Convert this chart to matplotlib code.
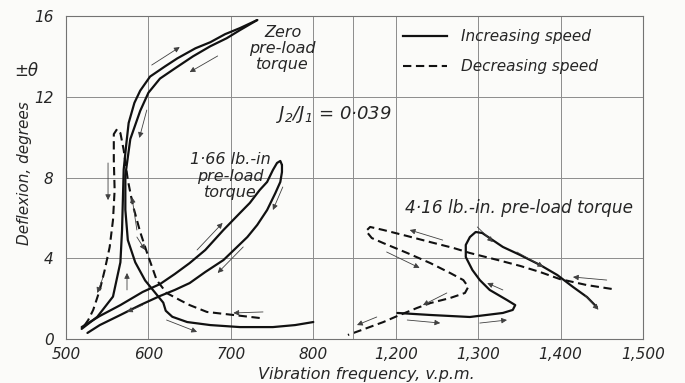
import matplotlib.pyplot as plt
import numpy as np
from matplotlib.lines import Line2D

plt.rcParams['font.family'] = ['DejaVu Sans']
plt.rcParams['font.style'] = 'italic'

# zero pre-load torque
zero_inc_f = [519, 538, 557, 566, 568, 569, 570, 573, 576, 583, 590, 602, 620, 635, 657, 675, 693, 711, 732]
zero_inc_d = [0.5, 1.1, 2.1, 3.8, 5.4, 6.9, 8.4, 9.6, 10.7, 11.7, 12.3, 13.0, 13.5, 13.9, 14.4, 14.7, 15.1, 15.4, 15.8]
zero_ret_f = [732, 711, 695, 675, 654, 632, 614, 600, 590, 578, 572, 572, 575, 584, 596, 608, 618, 621, 629, 647, 675, 711, 751, 778, 800]
zero_ret_d = [15.8, 15.3, 14.9, 14.5, 14.0, 13.4, 12.9, 12.2, 11.3, 9.9, 8.1, 6.4, 4.9, 3.8, 2.9, 2.3, 1.8, 1.4, 1.1, 0.84, 0.69, 0.59, 0.59, 0.69, 0.84]
zero_dec_f = [735, 703, 671, 650, 638, 622, 610, 598, 590, 581, 575, 570, 566, 562, 558, 558, 559, 557, 553, 547, 541, 533, 527, 521]
zero_dec_d = [1.04, 1.19, 1.34, 1.68, 1.93, 2.28, 2.92, 4.31, 5.30, 6.64, 7.88, 9.36, 10.2, 10.4, 10.15, 8.87, 7.38, 5.89, 4.56, 3.42, 2.43, 1.44, 0.94, 0.59]

# 1.66 lb.-in pre-load torque
p166_inc_f = [519, 541, 566, 593, 614, 632, 650, 669, 691, 711, 723, 735, 744, 751, 756, 760, 762]
p166_inc_d = [0.59, 1.14, 1.68, 2.33, 2.72, 3.22, 3.76, 4.41, 5.40, 6.24, 6.74, 7.38, 7.78, 8.37, 8.72, 8.82, 8.62]
p166_ret_f = [762, 762, 760, 754, 744, 732, 720, 705, 691, 669, 650, 632, 614, 590, 566, 541, 526]
p166_ret_d = [8.62, 8.27, 7.78, 7.23, 6.39, 5.65, 5.05, 4.46, 3.91, 3.32, 2.77, 2.43, 2.13, 1.68, 1.19, 0.69, 0.30]

# 4.16 lb.-in pre-load torque
p416_inc_f = [1202, 1242, 1290, 1330, 1342, 1345, 1335, 1314, 1302, 1293, 1285, 1285, 1290, 1297, 1305, 1314, 1330, 1351, 1375, 1396, 1415, 1432, 1444]
p416_inc_d = [1.29, 1.19, 1.09, 1.29, 1.44, 1.68, 1.93, 2.43, 2.92, 3.42, 4.06, 4.66, 5.05, 5.30, 5.25, 5.00, 4.56, 4.16, 3.67, 3.17, 2.58, 2.08, 1.58]
p416_dec_f = [1462, 1432, 1399, 1375, 1351, 1324, 1290, 1270, 1242, 1214, 1185, 1169, 1164, 1171, 1185, 1214, 1242, 1266, 1282, 1288, 1284, 1266, 1242, 1226, 1202, 1185, 1165, 1142]
p416_dec_d = [2.48, 2.67, 2.97, 3.32, 3.62, 3.91, 4.26, 4.51, 4.80, 5.10, 5.40, 5.55, 5.35, 5.00, 4.75, 4.26, 3.76, 3.27, 2.92, 2.58, 2.28, 2.03, 1.78, 1.54, 1.14, 0.84, 0.54, 0.20]

# direction arrows (tail f, tail d, head f, head d)
arrows = [
    (604, 13.57, 638, 14.46), (684, 14.02, 650, 13.22), (598, 11.34, 589, 9.96),
    (551, 8.72, 551, 6.88), (586, 5.40, 580, 7.03), (545, 3.07, 538, 2.28),
    (574, 2.43, 574, 3.27), (586, 5.05, 596, 4.41), (593, 1.68, 574, 1.34),
    (622, 0.94, 659, 0.35), (739, 1.34, 703, 1.29),
    (659, 4.41, 690, 5.75), (715, 4.56, 684, 3.27), (763, 7.53, 751, 6.39),
    (1257, 4.90, 1217, 5.40), (1189, 4.31, 1229, 3.52), (1262, 2.28, 1233, 1.68),
    (1177, 1.09, 1153, 0.69), (1214, 0.94, 1254, 0.79), (1299, 5.55, 1318, 4.80),
    (1347, 4.31, 1379, 3.57), (1456, 2.92, 1415, 3.07), (1330, 2.43, 1311, 2.77),
    (1302, 0.79, 1335, 0.94), (1430, 2.15, 1446, 1.45),
]

tick_pos = [500, 600, 700, 800, 900, 1000, 1100, 1200]
tick_lab = ['500', '600', '700', '800', '1,200', '1,300', '1,400', '1,500']


def xpos(f):
    # the axis is broken between 800 and 1,150 v.p.m.
    f = np.asarray(f, dtype=float)
    return np.where(f > 1000, f - 300, f)


fig = plt.figure(figsize=(6.85, 3.83), dpi=100, facecolor='#fbfbf9')
ax = fig.add_axes([66 / 685, 44 / 383, 577 / 685, 323 / 383])
ax.set_facecolor('#fbfbf9')

ink = '#111111'
solid = dict(color=ink, lw=1.6, solid_capstyle='round')
dashed = dict(color=ink, lw=1.5, ls=(0, (4, 2.2)))

ax.plot(xpos(zero_inc_f), zero_inc_d, **solid)
ax.plot(xpos(zero_ret_f), zero_ret_d, **solid)
ax.plot(xpos(zero_dec_f), zero_dec_d, **dashed)
ax.plot(xpos(p166_inc_f), p166_inc_d, **solid)
ax.plot(xpos(p166_ret_f), p166_ret_d, **solid)
ax.plot(xpos(p416_inc_f), p416_inc_d, **solid)
ax.plot(xpos(p416_dec_f), p416_dec_d, **dashed)

for f0, d0, f1, d1 in arrows:
    ax.annotate('', xy=(xpos(f1), d1), xytext=(xpos(f0), d0),
                arrowprops=dict(arrowstyle='-|>', lw=0.6, color='0.25',
                                mutation_scale=8, shrinkA=0, shrinkB=0))

ax.set_xlim(500, 1200)
ax.set_ylim(0, 16)
ax.set_xticks(tick_pos)
ax.set_xticklabels(tick_lab)
ax.set_yticks([0, 4, 8, 12, 16])
ax.grid(True, color='0.55', lw=0.7)
ax.axvline(848, color='0.55', lw=0.7)
for s in ax.spines.values():
    s.set_color('0.45')
    s.set_linewidth(0.8)
ax.tick_params(axis='both', length=0, labelsize=11, colors='0.15')
ax.tick_params(axis='y', pad=9)
ax.tick_params(axis='x', pad=6)

ax.text(xpos(763), 14.4, 'Zero\npre-load\ntorque', fontsize=11.5, ha='center', va='center',
        linespacing=1.1, color='0.15')
ax.text(xpos(825), 11.1, r'$J_2/J_1$ = 0·039', fontsize=13, ha='center', va='center', color='0.15')
ax.text(xpos(699), 8.07, '1·66 lb.-in\npre-load\ntorque', fontsize=11.5, ha='center', va='center',
        linespacing=1.1, color='0.15')
ax.text(xpos(1211), 6.49, '4·16 lb.-in. pre-load torque', fontsize=12.2, ha='left', va='center',
        color='0.15')

handles = [Line2D([], [], color=ink, lw=1.6), Line2D([], [], color=ink, lw=1.5, ls=(0, (4, 2.2)))]
fig.legend(handles, ['Increasing speed', 'Decreasing speed'], loc='upper left',
           bbox_to_anchor=(403 / 685, 1 - 29 / 383), bbox_transform=fig.transFigure,
           frameon=False, fontsize=11, handlelength=2.9, handletextpad=0.9,
           labelspacing=1.0, borderpad=0, borderaxespad=0, labelcolor='0.15')

fig.text(26 / 685, 1 - 71 / 383, '±θ', fontsize=12, ha='center', va='center', color='0.15')
fig.text(24 / 685, 1 - 173 / 383, 'Deflexion, degrees', fontsize=11, rotation=90,
         ha='center', va='center', color='0.15')
fig.text(366 / 685, 1 - 375 / 383, 'Vibration frequency, v.p.m.', fontsize=11.5,
         ha='center', va='center', color='0.15')

fig.savefig('out.png', dpi=100, facecolor=fig.get_facecolor())
